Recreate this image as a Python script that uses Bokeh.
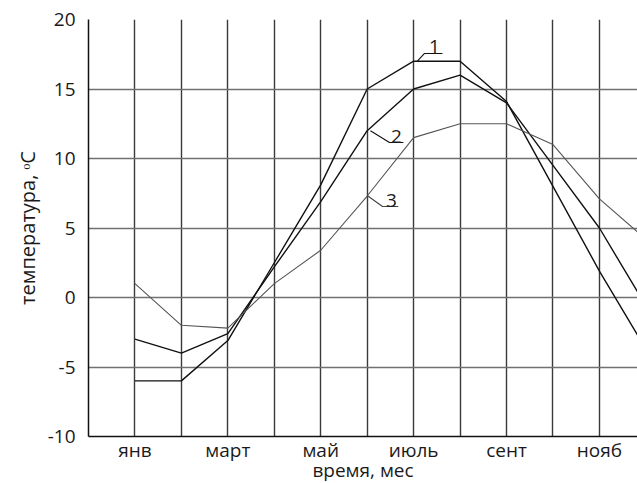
from bokeh.plotting import figure
from bokeh.models import FixedTicker, Range1d
from bokeh.core.properties import value
from bokeh.embed import file_html
from bokeh.resources import INLINE

# ---- data ----
months = ["янв", "фев", "март", "апр", "май", "июнь", "июль", "авг", "сент", "окт", "нояб", "дек"]
month_num = [1, 2, 3, 4, 5, 6, 7, 8, 9, 10, 11, 12]
curve1 = [-6.0, -6.0, -3.1, 2.5, 8.1, 15.0, 17.0, 17.0, 14.1, 8.0, 1.9, -3.7]
curve2 = [-3.0, -4.0, -2.6, 2.2, 6.9, 12.0, 15.0, 16.0, 14.0, 9.5, 5.0, -0.6]
curve3 = [1.0, -2.0, -2.2, 1.0, 3.4, 7.3, 11.5, 12.5, 12.5, 11.0, 7.1, 4.2]
tick_months = [1, 3, 5, 7, 9, 11]
tick_labels = ["янв", "март", "май", "июль", "сент", "нояб"]
y_ticks = [-10, -5, 0, 5, 10, 15, 20]
y_tick_labels = ["-10", "-5", "0", "5", "10", "15", "20"]
x_title = "время, мес"
y_title = "температура, ᵒC"

# curve labels (number, leader start on curve, underline start, underline end, text pos)
lab_text = ["1", "2", "3"]
lead_x0 = [7.08, 6.07, 6.0]
lead_y0 = [17.0, 12.0, 7.34]
ul_x0 = [7.23, 6.48, 6.33]
ul_y = [17.55, 11.15, 6.55]
ul_x1 = [7.62, 6.78, 6.67]
txt_x = [7.45, 6.63, 6.52]
txt_y = [17.6, 11.1, 6.5]

FONT = "Open Sans"
TXT = "#1a1a1a"

p = figure(width=637, height=483, frame_width=549, frame_height=417,
           output_backend="svg", toolbar_location=None,
           x_range=Range1d(0, 11.82), y_range=Range1d(-10, 20),
           min_border_left=88, min_border_right=0, min_border_top=19, min_border_bottom=47)
p.outline_line_color = None
p.background_fill_color = "white"
p.border_fill_color = "white"

# axes
p.xaxis.ticker = FixedTicker(ticks=tick_months)
p.xaxis.major_label_overrides = {m: l for m, l in zip(tick_months, tick_labels)}
p.yaxis.ticker = FixedTicker(ticks=y_ticks)
p.yaxis.major_label_overrides = {t: l for t, l in zip(y_ticks, y_tick_labels)}
for ax in (p.xaxis[0], p.yaxis[0]):
    ax.major_tick_line_color = None
    ax.minor_tick_line_color = None
    ax.major_tick_out = 0
    ax.major_tick_in = 0
    ax.minor_tick_out = 0
    ax.minor_tick_in = 0
    ax.axis_line_color = "#111111"
    ax.axis_line_width = 1.5
    ax.major_label_text_font = FONT
    ax.major_label_text_font_size = "19px"
    ax.major_label_text_color = TXT
    ax.axis_label_text_font = FONT
    ax.axis_label_text_font_size = "19px"
    ax.axis_label_text_font_style = "normal"
    ax.axis_label_text_color = TXT
p.xaxis.axis_label = x_title
p.yaxis.axis_label = y_title
p.yaxis.axis_label_text_font_size = "20px"
p.xaxis.major_label_standoff = 0
p.xaxis.axis_label_standoff = -9
p.yaxis.major_label_standoff = 13
p.yaxis.axis_label_standoff = 4

# grid
p.xgrid.ticker = FixedTicker(ticks=list(range(0, 12)))
p.xgrid.grid_line_color = "#3a3a3a"
p.xgrid.grid_line_width = 1.4
p.ygrid.ticker = FixedTicker(ticks=y_ticks)
p.ygrid.grid_line_color = "#707070"
p.ygrid.grid_line_width = 1.6

# curves
p.line(month_num, curve1, line_color="#111111", line_width=1.4)
p.line(month_num, curve2, line_color="#111111", line_width=1.4)
p.line(month_num, curve3, line_color="#555555", line_width=1.1)

# curve number labels with leaders
for i in range(3):
    col = "#111111" if i < 2 else "#444444"
    p.line([lead_x0[i], ul_x0[i], ul_x1[i]], [lead_y0[i], ul_y[i], ul_y[i]],
           line_color=col, line_width=1.1)
p.text(txt_x, txt_y, text=lab_text, text_font=value(FONT), text_font_size="19px",
       text_color=TXT, text_align="center", text_baseline="bottom")

open("out.html", "w").write(file_html(p, INLINE))
